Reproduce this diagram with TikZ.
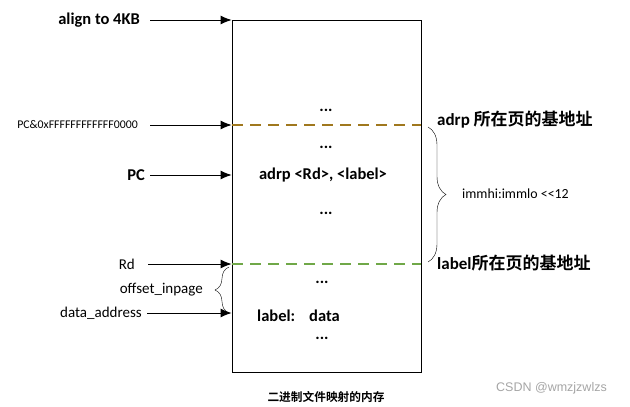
\documentclass[tikz,border=0pt]{standalone}
\usepackage{fontspec}
\setmainfont{Carlito}
\newfontfamily\cjk{Noto Sans CJK SC}[BoldFont={Noto Sans CJK SC Bold}]
\newfontfamily\wmfont{Liberation Sans}
\usetikzlibrary{arrows.meta}
\usetikzlibrary{decorations.pathreplacing}

\definecolor{pagebrown}{RGB}{160,120,30}
\definecolor{pagegreen}{RGB}{112,168,72}

\tikzset{
  big/.style={inner sep=0pt, font=\fontsize{16.5}{18}\selectfont\bfseries},
  mid/.style={inner sep=0pt, font=\fontsize{15}{17}\selectfont},
  tiny/.style={inner sep=0pt, font=\fontsize{11.8}{13}\selectfont},
  side/.style={inner sep=0pt, anchor=west, font=\fontsize{17}{19}\selectfont\bfseries},
  pageline/.style={line width=1.6pt, dash pattern=on 11pt off 7pt},
}

\begin{document}
\begin{tikzpicture}[x=1pt, y=-1pt, >={Latex[length=11pt, width=9pt]}]
      \useasboundingbox (0,0) rectangle (630,407);

      %% Memory block
      \node[draw, line width=0.8pt, minimum width=189pt, minimum height=352pt,
            inner sep=0pt] (mem) at (326.5,196) {};

      %% Labels on the left
      \node[big, anchor=east] (align) at (140,20) {align to 4KB};
      \node[tiny, anchor=east] (mask) at (138,125) {PC\&0xFFFFFFFFFFFF0000};
      \node[big, anchor=east] (pc) at (145,175) {PC};
      \node[mid, anchor=east] (rd) at (135,264) {Rd};
      \node[mid, anchor=east] (offset) at (203,290) {offset\_inpage};
      \node[mid, anchor=east] (daddr) at (142,313) {data\_address};

      \foreach \src/\gap in {align/10, mask/12, pc/5, rd/13, daddr/5}
      {%
        \draw[->, line width=0.9pt] ([xshift=\gap pt]\src.east) -- (mem.west |- \src.east);
      }

      %% Page boundaries
      \coordinate (pagetop) at (232,125);
      \coordinate (pagelbl) at (232,264);
      \draw[pageline, pagebrown] (pagetop) -- (mem.east |- pagetop);
      \draw[pageline, pagegreen] (pagelbl) -- (mem.east |- pagelbl);

      %% Contents of the block
      \node[big] (dots1) at (326,110) {...};
      \node[big] (dots2) at (326,147) {...};
      \node[big] (insn) at (323,175) {adrp <Rd>, <label>};
      \node[big] (dots3) at (326,213) {...};
      \node[big] (dots4) at (322,282) {...};
      \node[big, anchor=west] (data) at (257,316) {label:\hspace{14pt}data};
      \node[big] (dots5) at (322,338) {...};

      %% Braces
      \draw[decorate, decoration={brace, amplitude=14pt}] (229,313) -- (229,267);
      \draw[decorate, decoration={brace, amplitude=18pt}] (428,127) -- (428,262);

      %% Labels on the right
      \node[side] (adrpbase) at (437,120) {adrp {\cjk 所在页的基地址}};
      \node[inner sep=0pt, anchor=west, font=\fontsize{13.9}{16}\selectfont] (imm) at (462,194) {immhi:immlo {<}{<}12};
      \node[side] (lblbase) at (437,263) {label{\cjk 所在页的基地址}};

      %% Caption
      \node[inner sep=0pt, font=\fontsize{11.7}{13}\selectfont\cjk\bfseries] (caption) at (326,397) {二进制文件映射的内存};
      \node[inner sep=0pt, anchor=west, text={rgb,255:red,165;green,165;blue,165},
            font=\fontsize{12.5}{14}\selectfont\wmfont] (mark) at (496,388) {CSDN @wmzjzwlzs};

    \end{tikzpicture}
\end{document}
